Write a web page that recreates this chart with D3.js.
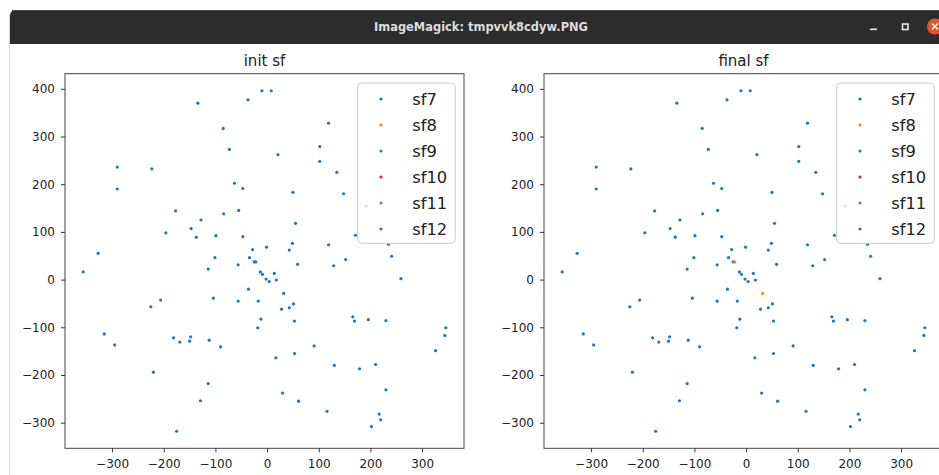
<!DOCTYPE html>
<html><head><meta charset="utf-8">
<script src="https://cdn.jsdelivr.net/npm/d3@7"></script>
<style>body{margin:0;background:#fff;overflow:hidden}svg{display:block}</style>
</head><body><svg id="c" width="939" height="475"></svg>
<script>
const windowTitle = "ImageMagick: tmpvvk8cdyw.PNG";
const panelTitles = ["init sf", "final sf"];
const seriesNames = ["sf7", "sf8", "sf9", "sf10", "sf11", "sf12"];
const seriesColors = ["#1f77b4", "#ff7f0e", "#2ca02c", "#d62728", "#9467bd", "#8c564b"];
const xTicks = [-300, -200, -100, 0, 100, 200, 300];
const yTicks = [-300, -200, -100, 0, 100, 200, 300, 400];

const pointX = [-134, -37, -10, 8, -85, -73, 21, 119, 102, 102,
  135, 148, -290, -290, -223, -63, -47, 50, -177, -84,
  -55, -128, 55, -196, -147, -137, -99, -47, 49, 119,
  171, 235, 241, 192, -327, -28, -1, 43, -101, -34,
  152, -356, -114, -56, -25, -22, 59, 129, 259, -13,
  -9, 14, -2, 4, 18, -36, 32, -104, -56, -17,
  -206, -225, 51, 28, 43, -12, 53, -18, 166, 169,
  196, 230, 346, 344, 326, -315, -295, -181, -169, -148,
  -150, -112, -90, 91, 17, 53, 130, 179, 210, -220,
  -114, 230, 30, -129, 61, 116, 217, 220, 202, -175];
const pointY = [370, 377, 396, 396, 317, 273, 262, 328, 279, 248,
  225, 180, 236, 190, 232, 202, 191, 183, 144, 138,
  145, 125, 118, 98, 107, 89, 92, 90, 76, 73,
  93, 74, 49, 154, 55, 63, 68, 62, 46, 46,
  42, 16, 22, 31, 37, 37, 32, 29, 2, 16,
  11, 13, 1, -4, -1, -20, -29, -39, -45, -45,
  -43, -57, -51, -62, -59, -83, -87, -101, -78, -87,
  -84, -86, -101, -117, -149, -114, -137, -122, -131, -120,
  -129, -127, -141, -139, -164, -155, -180, -187, -178, -194,
  -218, -231, -238, -254, -255, -276, -282, -294, -308, -318];
const initSf = [7,7,7,7,7,7,7,7,7,7, 7,7,7,7,7,7,7,7,7,7,
  7,7,7,7,7,7,7,7,7,7, 7,7,7,7,7,7,7,7,7,7,
  7,7,7,7,7,7,7,7,7,7, 7,7,7,7,7,7,7,7,7,7,
  7,7,7,7,7,7,7,7,7,7, 7,7,7,7,7,7,7,7,7,7,
  7,7,7,7,7,7,7,7,7,7, 7,7,7,7,7,7,7,7,7,7];
const finalSf = [7,7,7,7,7,7,7,7,7,7, 7,7,7,7,7,7,7,7,7,7,
  7,7,7,7,7,7,7,7,7,7, 7,7,7,7,7,7,7,7,7,7,
  7,7,7,7,7,8,7,7,7,7, 7,7,7,7,7,7,8,7,7,7,
  7,7,7,7,7,7,7,7,7,7, 7,7,7,7,7,7,7,7,7,7,
  7,7,7,7,7,7,7,7,7,7, 7,7,7,7,7,7,7,7,7,7];

const svg = d3.select("#c");
const FONT = "DejaVu Sans, Liberation Sans, sans-serif";

// window chrome
svg.append("rect").attr("x", 0).attr("y", 0).attr("width", 939).attr("height", 475).attr("fill", "#ffffff");
svg.append("rect").attr("x", 10).attr("y", 44).attr("width", 940).attr("height", 440).attr("fill", "#ffffff");
svg.append("line").attr("x1", 9.5).attr("x2", 9.5).attr("y1", 14).attr("y2", 475).attr("stroke", "#d6d6d6");
svg.append("path").attr("d", "M10,44 L10,16 Q10,10 16,10 L945,10 L945,44 Z").attr("fill", "#2c2c2c");
svg.append("line").attr("x1", 12).attr("x2", 939).attr("y1", 10.5).attr("y2", 10.5).attr("stroke", "#4a4a4a");
svg.append("text").attr("x", 481).attr("y", 31).attr("text-anchor", "middle")
  .attr("font-family", FONT).attr("font-weight", "bold").attr("font-size", 12.5)
  .attr("textLength", 214).attr("lengthAdjust", "spacingAndGlyphs")
  .attr("fill", "#dcdcdc").text(windowTitle);
svg.append("rect").attr("x", 870).attr("y", 28.5).attr("width", 7).attr("height", 1.6).attr("fill", "#e8e8e8");
svg.append("rect").attr("x", 902.5).attr("y", 24).attr("width", 5.5).attr("height", 5.5).attr("fill", "none").attr("stroke", "#e8e8e8").attr("stroke-width", 1.6);
svg.append("circle").attr("cx", 935).attr("cy", 26.5).attr("r", 8).attr("fill", "#e95420");
svg.append("path").attr("d", "M932,23.5 L938,29.5 M938,23.5 L932,29.5").attr("stroke", "#fff").attr("stroke-width", 1.6);

// scales shared
const xe = d3.extent(pointX), ye = d3.extent(pointY);
const xp = (xe[1] - xe[0]) * 0.05, yp = (ye[1] - ye[0]) * 0.05;
const axTop = 73.7, axBottom = 448.3, axW = 399;
const R = 1.6;

function drawPanel(left, title, sfArr) {
  const x = d3.scaleLinear().domain([xe[0] - xp, xe[1] + xp]).range([left, left + axW]);
  const y = d3.scaleLinear().domain([ye[0] - yp, ye[1] + yp]).range([axBottom, axTop]);
  const g = svg.append("g");

  seriesNames.forEach((name, si) => {
    const sfVal = 7 + si;
    const idx = d3.range(pointX.length).filter(i => sfArr[i] === sfVal);
    g.append("g").selectAll("circle").data(idx).join("circle")
      .attr("cx", i => x(pointX[i])).attr("cy", i => y(pointY[i]))
      .attr("r", R).attr("fill", seriesColors[si]);
  });

  const xa = g.append("g").attr("transform", `translate(0,${axBottom})`)
    .call(d3.axisBottom(x).tickValues(xTicks).tickSize(4).tickPadding(7).tickFormat(d3.format("d")));
  const ya = g.append("g").attr("transform", `translate(${left},0)`)
    .call(d3.axisLeft(y).tickValues(yTicks).tickSize(4).tickPadding(6).tickFormat(d3.format("d")));
  [xa, ya].forEach(a => {
    a.select(".domain").remove();
    a.selectAll("line").attr("stroke", "#333");
    a.selectAll("text").attr("font-family", FONT).attr("font-size", 12).attr("fill", "#222")
      .text(d => d < 0 ? "\u2212" + Math.abs(d) : String(d));
  });
  g.append("rect").attr("x", left).attr("y", axTop).attr("width", axW).attr("height", axBottom - axTop)
    .attr("fill", "none").attr("stroke", "#444").attr("stroke-width", 1);

  g.append("text").attr("x", left + axW / 2).attr("y", 66).attr("text-anchor", "middle")
    .attr("font-family", FONT).attr("font-size", 15).attr("fill", "#222").text(title);

  const lx = left + axW - 106.3, ly = 83;
  const lg = g.append("g");
  lg.append("rect").attr("x", lx).attr("y", ly).attr("width", 97.6).attr("height", 160.3)
    .attr("rx", 4).attr("fill", "#ffffff").attr("fill-opacity", 0.8).attr("stroke", "#cccccc");
  seriesNames.forEach((name, si) => {
    const cy = ly + 16 + si * 26;
    lg.append("circle").attr("cx", lx + 23.3).attr("cy", cy).attr("r", R).attr("fill", seriesColors[si]);
    lg.append("text").attr("x", lx + 54.6).attr("y", cy + 5.6).attr("font-family", FONT)
      .attr("font-size", 16.3).attr("fill", "#222").text(name);
  });
}

drawPanel(65, panelTitles[0], initSf);
drawPanel(544, panelTitles[1], finalSf);
</script></body></html>
